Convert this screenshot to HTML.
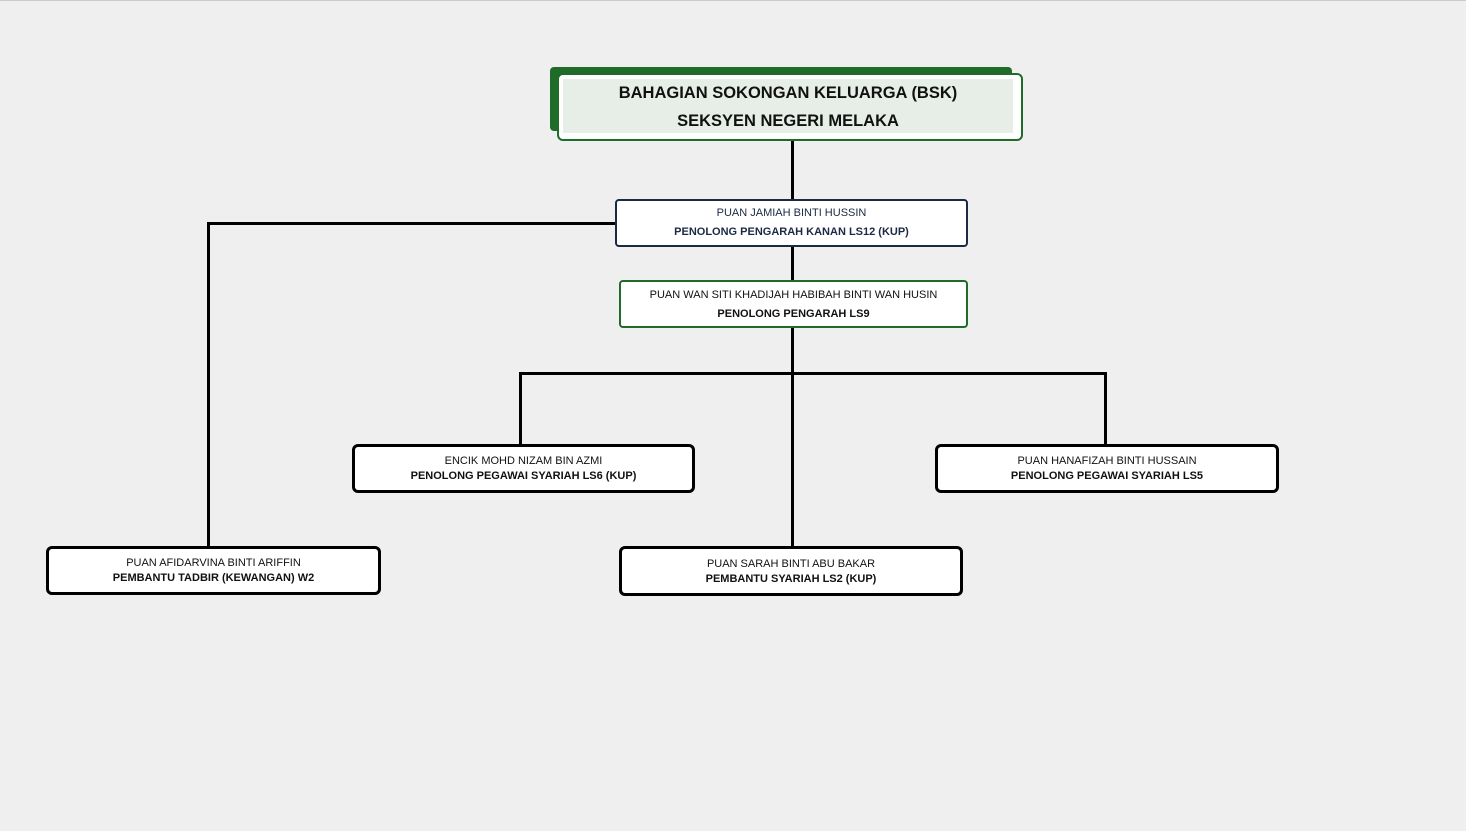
<!DOCTYPE html>
<html><head><meta charset="utf-8"><style>
body{margin:0;width:1466px;height:831px;background:#efefef;position:relative;overflow:hidden;font-family:"Liberation Sans",sans-serif;}
.b{position:absolute;box-sizing:border-box;background:#fff;text-align:center;color:#111;}
.l{position:absolute;background:#000;}
.n{font-size:11px;line-height:15px;}
.t{font-size:11px;font-weight:bold;line-height:15px;}
</style></head><body>
<div style="position:absolute;left:0;top:0;width:1466px;height:1px;background:#ccc"></div>
<div class="l" style="left:791px;top:140px;width:3px;height:408px"></div>
<div class="l" style="left:207px;top:222px;width:410px;height:3px"></div>
<div class="l" style="left:207px;top:222px;width:3px;height:326px"></div>
<div class="l" style="left:519px;top:372px;width:588px;height:3px"></div>
<div class="l" style="left:519px;top:372px;width:3px;height:74px"></div>
<div class="l" style="left:1104px;top:372px;width:3px;height:74px"></div>
<div style="position:absolute;left:550px;top:67px;width:462px;height:64px;background:#1e6b2a;border-radius:4px"></div>
<div class="b" style="left:557px;top:73px;width:466px;height:68px;border:2px solid #1e6b2a;border-radius:6px;background:#fff;padding:4px 8px 8px 4px">
<div style="background:#e6eee7;height:54px;font-weight:bold;font-size:16.5px;line-height:28px;padding-top:0px;">BAHAGIAN SOKONGAN KELUARGA (BSK)<br>SEKSYEN NEGERI MELAKA</div></div>
<div class="b" style="left:615px;top:199px;width:353px;height:48px;border:2px solid #1a2a44;border-radius:4px;padding-top:3px;color:#1a2a44">
<div class="n" style="line-height:19px">PUAN JAMIAH BINTI HUSSIN</div><div class="t" style="line-height:19px">PENOLONG PENGARAH KANAN LS12 (KUP)</div></div>
<div class="b" style="left:619px;top:280px;width:349px;height:48px;border:2px solid #1e6b2a;border-radius:4px;padding-top:4px">
<div class="n" style="line-height:19px">PUAN WAN SITI KHADIJAH HABIBAH BINTI WAN HUSIN</div><div class="t" style="line-height:19px">PENOLONG PENGARAH LS9</div></div>
<div class="b" style="left:352px;top:444px;width:343px;height:49px;border:3px solid #000;border-radius:6px;padding-top:7px">
<div class="n">ENCIK MOHD NIZAM BIN AZMI</div><div class="t">PENOLONG PEGAWAI SYARIAH LS6 (KUP)</div></div>
<div class="b" style="left:935px;top:444px;width:344px;height:49px;border:3px solid #000;border-radius:6px;padding-top:7px">
<div class="n">PUAN HANAFIZAH BINTI HUSSAIN</div><div class="t">PENOLONG PEGAWAI SYARIAH LS5</div></div>
<div class="b" style="left:46px;top:546px;width:335px;height:49px;border:3px solid #000;border-radius:6px;padding-top:7px">
<div class="n">PUAN AFIDARVINA BINTI ARIFFIN</div><div class="t">PEMBANTU TADBIR (KEWANGAN) W2</div></div>
<div class="b" style="left:619px;top:546px;width:344px;height:50px;border:3px solid #000;border-radius:6px;padding-top:8px">
<div class="n">PUAN SARAH BINTI ABU BAKAR</div><div class="t">PEMBANTU SYARIAH LS2 (KUP)</div></div>
</body></html>
